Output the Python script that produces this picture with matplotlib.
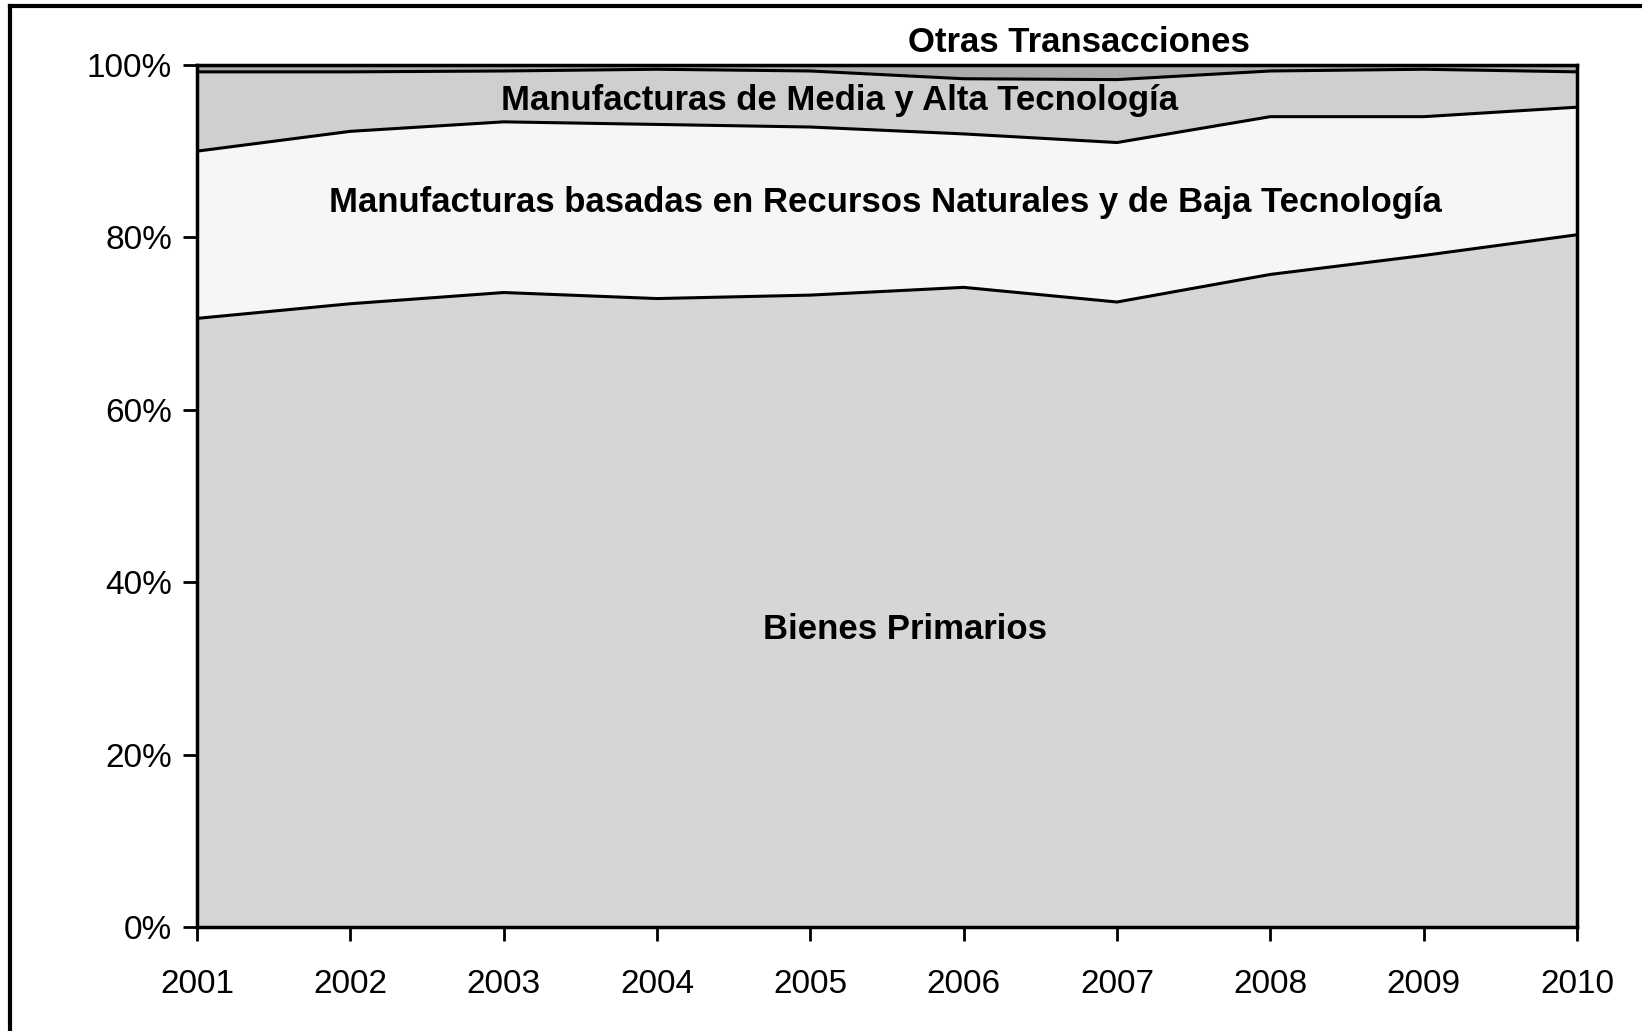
import numpy as np
import matplotlib.pyplot as plt
from matplotlib.lines import Line2D
from matplotlib.ticker import PercentFormatter

plt.rcParams['font.family'] = ['Liberation Sans', 'DejaVu Sans']

years = [2001, 2002, 2003, 2004, 2005, 2006, 2007, 2008, 2009, 2010]
# shares (%) of each group
primarios = [70.6, 72.3, 73.6, 72.9, 73.3, 74.2, 72.5, 75.7, 77.9, 80.3]
rrnn_baja = [19.4, 20.0, 19.8, 20.2, 19.5, 17.8, 18.5, 18.3, 16.1, 14.8]
media_alta = [9.2, 6.9, 5.9, 6.4, 6.5, 6.4, 7.3, 5.3, 5.5, 4.1]
otras = [0.8, 0.8, 0.7, 0.5, 0.7, 1.6, 1.7, 0.7, 0.5, 0.8]

labels = ['Bienes Primarios',
          'Manufacturas basadas en Recursos Naturales y de Baja Tecnología',
          'Manufacturas de Media y Alta Tecnología',
          'Otras Transacciones']
colors = ['#d6d6d6', '#f6f6f6', '#cfcfcf', '#ababab']

fig = plt.figure(figsize=(16.42, 10.31), dpi=100)
ax = fig.add_axes([0.12, 0.1009, 0.8404, 0.8361])

series = [primarios, rrnn_baja, media_alta, otras]
bottom = np.zeros(len(years))
for vals, col in zip(series, colors):
    top = bottom + np.array(vals)
    ax.fill_between(years, bottom, top, color=col, lw=0)
    ax.plot(years, top, color='black', lw=2.2)
    bottom = top

ax.set_xlim(2001, 2010)
ax.set_ylim(0, 100)
ax.set_xticks(years)
ax.set_yticks(range(0, 101, 20))
ax.yaxis.set_major_formatter(PercentFormatter(decimals=0))
ax.tick_params(direction='out', length=10, width=2, labelsize=24, pad=8)
ax.tick_params(axis='x', pad=20)
for s in ax.spines.values():
    s.set_linewidth(2.5)

# text labels inside the areas
kw = dict(ha='center', va='center', fontsize=25, fontweight='bold')
ax.text(2005.62, 34.5, labels[0], **kw)
ax.text(2005.49, 84.1, labels[1], **kw)
ax.text(2005.19, 95.9, labels[2], **kw)
ax.text(2006.75, 102.6, labels[3], clip_on=False, **kw)

# outer frame (left and top edges visible)
fig.add_artist(Line2D([10 / 1642, 10 / 1642], [0, 1 - 6 / 1031], color='black', lw=3,
                      transform=fig.transFigure))
fig.add_artist(Line2D([10 / 1642, 1], [1 - 6 / 1031, 1 - 6 / 1031], color='black', lw=3,
                      transform=fig.transFigure))

fig.savefig('out.png', dpi=100)
